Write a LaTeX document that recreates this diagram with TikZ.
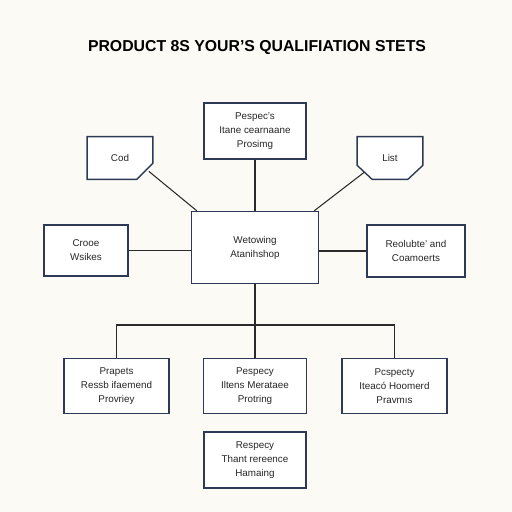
\documentclass[tikz,border=0pt]{standalone}
\usepackage{fontspec}
\setmainfont{Liberation Sans}
\definecolor{bg}{HTML}{FBFAF5}
\definecolor{edge}{HTML}{2E3A55}
\definecolor{wire}{HTML}{2A2A2A}
\begin{document}
\begin{tikzpicture}[x=0.02cm,y=-0.02cm,
  box/.style={draw=edge,fill=white,line width=0.8pt,align=center,inner sep=0pt,
    font=\fontsize{5.6}{8}\selectfont,text=black!85},
  ghost/.style={inner sep=0pt,align=center,font=\fontsize{5.6}{8}\selectfont,text=black!85},
  wireline/.style={draw=wire,line width=0.6pt}]
\fill[bg] (0,0) rectangle (512,512);
\useasboundingbox (0,0) rectangle (512,512);
\node[font=\fontsize{9}{10}\selectfont\bfseries] (title) at (257,48) {PRODUCT 8S YOUR'S QUALIFIATION STETS};
% boxes
\node[box,minimum width=102*0.02cm,minimum height=56*0.02cm] (top) at (255,131) {Pespec's\\Itane cearnaane\\Prosimg};
\node[box,minimum width=127*0.02cm,minimum height=72*0.02cm] (center) at (255,247.5) {Wetowing\\Atanihshop};
\node[box,minimum width=84*0.02cm,minimum height=51*0.02cm] (left) at (86,250.5) {Crooe\\Wsikes};
\node[box,minimum width=98*0.02cm,minimum height=52*0.02cm] (right) at (416,251) {Reolubte' and\\Coamoerts};
\node[box,minimum width=105*0.02cm,minimum height=55*0.02cm] (b1) at (116.5,386) {Prapets\\Ressb ifaemend\\Provriey};
\node[box,minimum width=103*0.02cm,minimum height=55*0.02cm] (b2) at (255,386) {Pespecy\\Iltens Merataee\\Protring};
\node[box,minimum width=105*0.02cm,minimum height=55*0.02cm] (b3) at (394.5,386) {Pcspecty\\Iteacó Hoomerd\\Pravmıs};
\node[box,minimum width=102*0.02cm,minimum height=56*0.02cm] (b4) at (255,460) {Respecy\\Thant rereence\\Hamaing};
% chamfered boxes
\node[ghost,minimum width=65*0.02cm,minimum height=42*0.02cm] (cod) at (120,158) {};
\draw[edge,fill=white,line width=0.8pt] (cod.north west) -- (cod.north east) -- ([yshift=16*0.02cm]cod.south east) -- ([xshift=-16*0.02cm]cod.south east) -- (cod.south west) -- cycle;
\node[ghost] at (cod.center) {Cod};
\node[ghost,minimum width=65*0.02cm,minimum height=42*0.02cm] (list) at (390,158) {};
\draw[edge,fill=white,line width=0.8pt] (list.north west) -- (list.north east) -- ([yshift=14*0.02cm]list.south east) -- ([xshift=-15*0.02cm]list.south east) -- ([xshift=15*0.02cm]list.south west) -- ([yshift=14*0.02cm]list.south west) -- cycle;
\node[ghost] at (list.center) {List};
% connectors
\coordinate (codc) at ([xshift=-4*0.02cm,yshift=8*0.02cm]cod.south east);
\coordinate (listc) at ([xshift=7*0.02cm,yshift=7*0.02cm]list.south west);
\draw[wireline] (codc) -- ([xshift=6*0.02cm]center.north west);
\draw[wireline] (listc) -- ([xshift=-5*0.02cm]center.north east);
\draw[wireline] (top.south) -- (center.north);
\draw[wireline] (left.east) -- (left.east -| center.west);
\draw[wireline] (right.west -| center.east) -- (right.west);
\coordinate (bus) at (255,325);
\draw[wireline] (center.south) -- (bus);
\draw[wireline] (b1.north) |- (bus) -| (b3.north);
\draw[wireline] (bus) -- (b2.north);
\end{tikzpicture}
\end{document}
